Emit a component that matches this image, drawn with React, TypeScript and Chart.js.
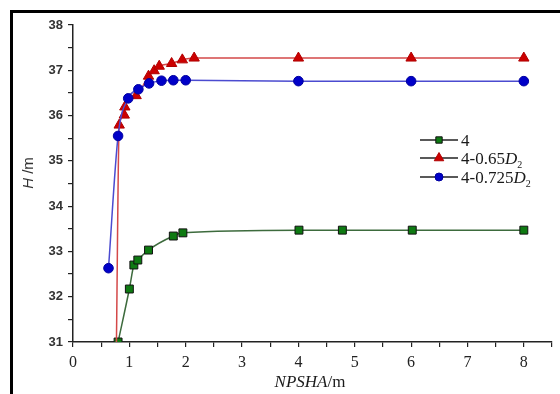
import React, { useEffect, useRef } from "react";
import { Chart, registerables } from "chart.js";

Chart.register(...registerables);

// ---- data ----
const xTickValues = [0, 1, 2, 3, 4, 5, 6, 7, 8];
const yTickValues = [31, 32, 33, 34, 35, 36, 37, 38];

const series4X = [0.8, 1.0, 1.08, 1.15, 1.34, 1.78, 1.95, 4.01, 4.78, 6.02, 8.0];
const series4Y = [31.0, 32.17, 32.7, 32.81, 33.03, 33.34, 33.41, 33.47, 33.47, 33.47, 33.47];

const series065X = [0.77, 0.82, 0.91, 0.92, 1.12, 1.34, 1.44, 1.53, 1.75, 1.94, 2.15, 4.0, 6.0, 8.0];
const series065Y = [30.9, 35.79, 36.01, 36.19, 36.44, 36.87, 36.99, 37.09, 37.15, 37.23, 37.27, 37.27, 37.27, 37.27];

const series0725X = [0.63, 0.8, 0.98, 1.16, 1.35, 1.57, 1.78, 2.0, 4.0, 6.0, 8.0];
const series0725Y = [32.63, 35.55, 36.38, 36.58, 36.71, 36.77, 36.78, 36.78, 36.76, 36.76, 36.76];

// legend label parts: [plain, italic, subscript]
const legendParts: string[][] = [
  ["4", "", ""],
  ["4-0.65", "D", "2"],
  ["4-0.725", "D", "2"],
];

const xTitleParts = ["NPSHA", "/m"];
const yTitleParts = ["H", " /m"];

const toPts = (xs: number[], ys: number[]) => xs.map((x, i) => ({ x, y: ys[i] }));

function drawMarker(ctx: CanvasRenderingContext2D, style: string, x: number, y: number, r: number, fill: string, stroke: string) {
  ctx.save();
  ctx.fillStyle = fill;
  ctx.strokeStyle = stroke;
  ctx.lineWidth = 1;
  ctx.beginPath();
  if (style === "rect") {
    const s = r * Math.SQRT1_2;
    ctx.rect(x - s, y - s, 2 * s, 2 * s);
  } else if (style === "triangle") {
    ctx.moveTo(x, y - r);
    ctx.lineTo(x + r * Math.sin((2 * Math.PI) / 3), y - r * Math.cos((2 * Math.PI) / 3));
    ctx.lineTo(x + r * Math.sin((4 * Math.PI) / 3), y - r * Math.cos((4 * Math.PI) / 3));
    ctx.closePath();
  } else {
    ctx.arc(x, y, r, 0, Math.PI * 2);
  }
  ctx.fill();
  ctx.stroke();
  ctx.restore();
}

const decorPlugin = {
  id: "decor",
  afterDraw(chart: any) {
    const ctx: CanvasRenderingContext2D = chart.ctx;
    ctx.save();
    // legend
    const rowsY = [140, 158, 177];
    const lineX0 = 420;
    const lineX1 = 458;
    const textX = 461;
    chart.data.datasets.forEach((ds: any, i: number) => {
      const y = rowsY[i];
      ctx.strokeStyle = "#222";
      ctx.lineWidth = 1.3;
      ctx.beginPath();
      ctx.moveTo(lineX0, y);
      ctx.lineTo(lineX1, y);
      ctx.stroke();
      drawMarker(ctx, ds.pointStyle, (lineX0 + lineX1) / 2, y, ds.legendRadius, ds.pointBackgroundColor, ds.pointBorderColor);
      const [plain, ital, sub] = legendParts[i];
      ctx.fillStyle = "#1a1a1a";
      ctx.textBaseline = "alphabetic";
      ctx.textAlign = "left";
      let x = textX;
      const base = y + 6;
      ctx.font = "17px 'Liberation Serif'";
      ctx.fillText(plain, x, base);
      x += ctx.measureText(plain).width;
      if (ital) {
        ctx.font = "italic 17px 'Liberation Serif'";
        ctx.fillText(ital, x, base);
        x += ctx.measureText(ital).width;
      }
      if (sub) {
        ctx.font = "10px 'Liberation Serif'";
        ctx.fillText(sub, x, base + 4);
      }
    });

    // x title
    ctx.fillStyle = "#1a1a1a";
    ctx.textBaseline = "middle";
    ctx.textAlign = "left";
    ctx.font = "italic 17px 'Liberation Serif'";
    const w1 = ctx.measureText(xTitleParts[0]).width;
    ctx.font = "17px 'Liberation Serif'";
    const w2 = ctx.measureText(xTitleParts[1]).width;
    let sx = 310 - (w1 + w2) / 2;
    ctx.font = "italic 17px 'Liberation Serif'";
    ctx.fillText(xTitleParts[0], sx, 383);
    ctx.font = "17px 'Liberation Serif'";
    ctx.fillText(xTitleParts[1], sx + w1, 383);

    // y title
    ctx.save();
    ctx.translate(29, 173);
    ctx.rotate(-Math.PI / 2);
    ctx.font = "italic 15px 'Liberation Sans'";
    const h1 = ctx.measureText(yTitleParts[0]).width;
    ctx.font = "15px 'Liberation Sans'";
    const h2 = ctx.measureText(yTitleParts[1]).width;
    const sy = -(h1 + h2) / 2;
    ctx.font = "italic 15px 'Liberation Sans'";
    ctx.fillStyle = "#333";
    ctx.fillText(yTitleParts[0], sy, 0);
    ctx.font = "15px 'Liberation Sans'";
    ctx.fillText(yTitleParts[1], sy + h1, 0);
    ctx.restore();

    ctx.restore();
  },
};

export default function App() {
  const canvasRef = useRef<HTMLCanvasElement | null>(null);

  useEffect(() => {
    if (!canvasRef.current) return;
    const chart = new Chart(canvasRef.current, {
      type: "line",
      data: {
        datasets: [
          {
            label: "4",
            data: toPts(series4X, series4Y),
            borderColor: "#3d6b3d",
            borderWidth: 1.5,
            pointStyle: "rect",
            pointRadius: 5.6,
            pointBackgroundColor: "#0e7a12",
            pointBorderColor: "#111",
            pointBorderWidth: 1,
            cubicInterpolationMode: "monotone",
            order: 2,
            legendRadius: 4.5,
          } as any,
          {
            label: "4-0.65D2",
            data: toPts(series065X, series065Y),
            borderColor: "#d44848",
            borderWidth: 1.5,
            pointStyle: "triangle",
            pointRadius: (c: any) => (c.dataIndex === 0 ? 0 : 6),
            pointBackgroundColor: "#cc0000",
            pointBorderColor: "#b00000",
            pointBorderWidth: 1,
            cubicInterpolationMode: "monotone",
            clip: { left: 10, top: 10, right: 10, bottom: 0 },
            order: 1,
            legendRadius: 5.5,
          } as any,
          {
            label: "4-0.725D2",
            data: toPts(series0725X, series0725Y),
            borderColor: "#4b4bd0",
            borderWidth: 1.5,
            pointStyle: "circle",
            pointRadius: 4.8,
            pointBackgroundColor: "#0000c8",
            pointBorderColor: "#0000a0",
            pointBorderWidth: 1,
            cubicInterpolationMode: "monotone",
            order: 0,
            legendRadius: 4,
          } as any,
        ],
      },
      options: {
        animation: false,
        responsive: false,
        maintainAspectRatio: false,
        layout: { padding: { left: 0, top: 25, right: 8, bottom: 0 } },
        plugins: {
          legend: { display: false },
          tooltip: { enabled: false },
          title: { display: false },
        },
        scales: {
          x: {
            type: "linear",
            min: 0,
            max: 8.5,
            afterFit: (s: any) => {
              s.height = 52;
            },
            ticks: {
              stepSize: 0.5,
              autoSkip: false,
              maxRotation: 0,
              padding: 6,
              color: "#222",
              font: { family: "'Liberation Serif'", size: 16 },
              callback: (v: any) => (xTickValues.includes(Number(v)) ? String(v) : ""),
            },
            grid: { display: true, drawOnChartArea: false, drawTicks: true, tickLength: 5, color: "#222", lineWidth: 1.2 },
            border: { display: true, color: "#222", width: 1.5 },
          },
          y: {
            type: "linear",
            min: 31,
            max: 38,
            afterFit: (s: any) => {
              s.width = 73;
            },
            ticks: {
              stepSize: 0.5,
              autoSkip: false,
              padding: 5,
              color: "#333",
              font: { family: "'Liberation Sans'", size: 13, weight: "bold" },
              callback: (v: any) => (yTickValues.includes(Number(v)) ? String(v) : ""),
            },
            grid: { display: true, drawOnChartArea: false, drawTicks: true, tickLength: 5, color: "#222", lineWidth: 1.2 },
            border: { display: true, color: "#222", width: 1.5 },
          },
        },
      } as any,
      plugins: [decorPlugin],
    });
    return () => chart.destroy();
  }, []);

  return (
    <div style={{ position: "fixed", left: 0, top: 0, width: 560, height: 394, background: "#fff", overflow: "hidden" }}>
      <div
        style={{
          position: "absolute",
          left: 10,
          top: 10,
          right: -10,
          bottom: -10,
          borderLeft: "3px solid #000",
          borderTop: "3px solid #000",
        }}
      />
      <canvas ref={canvasRef} width={560} height={394} style={{ position: "absolute", left: 0, top: 0, width: 560, height: 394 }} />
    </div>
  );
}
